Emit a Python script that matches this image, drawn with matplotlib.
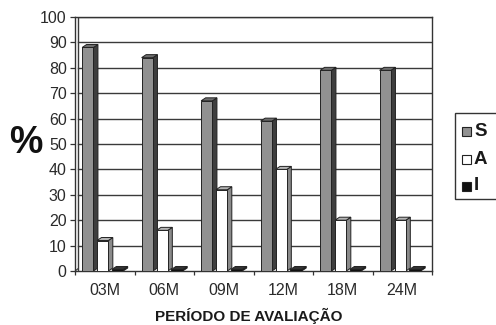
import matplotlib
matplotlib.use("Agg")
import matplotlib.pyplot as plt
from matplotlib.patches import Rectangle, Polygon

# Evaluation periods and percentage per class
periods = ["03M", "06M", "09M", "12M", "18M", "24M"]
series_names = ["S", "A", "I"]
s_vals = [88, 84, 67, 59, 79, 79]
a_vals = [12, 16, 32, 40, 20, 20]
i_vals = [0.6, 0.6, 0.6, 0.6, 0.6, 0.6]
y_ticks = [0, 10, 20, 30, 40, 50, 60, 70, 80, 90, 100]

plt.rcParams["font.family"] = ["Liberation Sans", "DejaVu Sans"]

W, H = 496, 325
fig = plt.figure(figsize=(W / 100, H / 100), dpi=100)
L, R, T, B = 75, 432, 17, 271
ax = fig.add_axes([L / W, 1 - B / H, (R - L) / W, (B - T) / H])
ncat = len(periods)
ax.set_xlim(0, ncat)
ax.set_ylim(0, 100)

px_x = ncat / (R - L)      # data units per pixel (x)
px_y = 100 / (B - T)       # data units per pixel (y)
dx, dy = 4.5 * px_x, 3 * px_y

# back wall: grid lines and inner wall edge
wall = 3 * px_x
for v in y_ticks[1:]:
    ax.plot([wall, ncat], [v, v], color="#3a3a3a", lw=1.0, zorder=1)
ax.plot([wall, wall], [0, 100], color="#3a3a3a", lw=1.0, zorder=1)
ax.plot([0, wall], [0, 0.9], color="#3a3a3a", lw=0.8, zorder=1)

styles = [
    # front, side, top
    ("#919191", "#3e3e3e", "#6e6e6e"),
    ("#ffffff", "#8a8a8a", "#b5b5b5"),
    ("#111111", "#111111", "#333333"),
]
offsets = [0.12, 0.37, 0.62]
bw = 0.19

for vals, off, (fc, sc, tc) in zip([s_vals, a_vals, i_vals], offsets, styles):
    lefts = [k + off for k in range(ncat)]
    ax.bar(lefts, vals, width=bw, align="edge", color=fc,
           edgecolor="#222222", linewidth=0.7, zorder=3)
    for x0, v in zip(lefts, vals):
        x1 = x0 + bw
        side = Polygon([(x1, 0), (x1 + dx, dy), (x1 + dx, v + dy), (x1, v)],
                       closed=True, facecolor=sc, edgecolor="#222222",
                       linewidth=0.7, zorder=2)
        top = Polygon([(x0, v), (x0 + dx, v + dy), (x1 + dx, v + dy), (x1, v)],
                      closed=True, facecolor=tc, edgecolor="#222222",
                      linewidth=0.7, zorder=3)
        ax.add_patch(side)
        ax.add_patch(top)

# axes frame
for s in ["top", "right", "left", "bottom"]:
    ax.spines[s].set_color("#333333")
    ax.spines[s].set_linewidth(1.0)

ax.set_yticks(y_ticks)
ax.set_yticklabels([str(v) for v in y_ticks])
ax.tick_params(axis="y", direction="out", length=3.5, width=0.9,
               pad=2.5, labelsize=11.5, labelcolor="#2a2a2a", color="#333333")

ax.set_xticks(range(ncat + 1))
ax.set_xticklabels([""] * (ncat + 1))
ax.set_xticks([k + 0.5 for k in range(ncat)], minor=True)
ax.set_xticklabels(periods, minor=True)
ax.tick_params(axis="x", which="major", direction="out", length=3,
               width=0.9, color="#333333")
ax.tick_params(axis="x", which="minor", length=0, pad=8.5,
               labelsize=11.5, labelcolor="#2a2a2a")

fig.text(249 / W, 1 - 316 / H, "PERÍODO DE AVALIAÇÃO", ha="center",
         va="center", fontsize=11, fontweight="bold", color="#1a1a1a")
fig.text(26 / W, 1 - 143 / H, "%", ha="center", va="center",
         fontsize=27, fontweight="bold", color="#111111")

# legend box
fig.patches.append(Rectangle((455 / W, 1 - 199 / H), 60 / W, 86 / H,
                             transform=fig.transFigure, facecolor="white",
                             edgecolor="#333333", linewidth=1.0))
leg_y = [131, 159, 186]
for name, yy, (fc, sc, tc) in zip(series_names, leg_y, styles):
    fig.patches.append(Rectangle((462 / W, 1 - (yy + 4.5) / H), 9 / W, 9 / H,
                                 transform=fig.transFigure, facecolor=fc,
                                 edgecolor="#222222", linewidth=0.8))
    fig.text(474 / W, 1 - yy / H, name, ha="left", va="center",
             fontsize=13.5, fontweight="bold", color="#1a1a1a")

fig.savefig("out.png", dpi=100)
